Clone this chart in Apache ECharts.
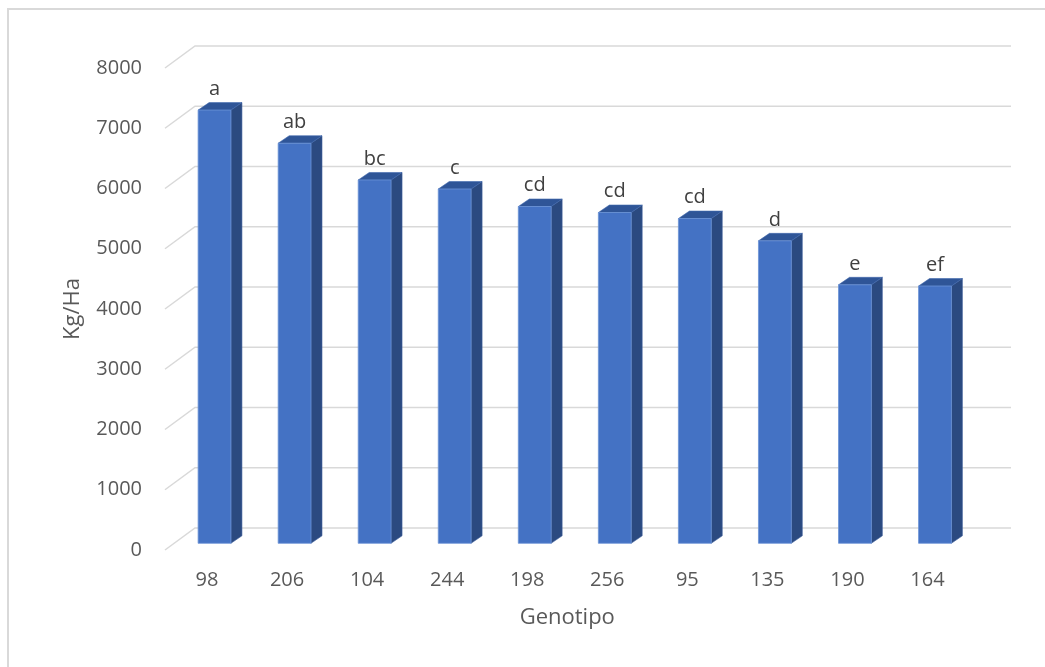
<!DOCTYPE html>
<html>
<head>
<meta charset="utf-8">
<title>Rendimiento por genotipo</title>
<script src="https://cdn.jsdelivr.net/npm/echarts@6/dist/echarts.min.js"></script>
<style>
  html, body { margin: 0; padding: 0; background: #ffffff; }
  #chart { width: 1045px; height: 667px; }
</style>
</head>
<body>
<div id="chart"></div>
<script>
// Genotypes, yield (kg/ha) and mean-separation letters
const genotipos = ['98', '206', '104', '244', '198', '256', '95', '135', '190', '164'];
const rendimiento = [7190, 6640, 6030, 5880, 5590, 5490, 5390, 5020, 4290, 4270];
const letras = ['a', 'ab', 'bc', 'c', 'cd', 'cd', 'cd', 'd', 'e', 'ef'];
const yTicks = [0, 1000, 2000, 3000, 4000, 5000, 6000, 7000, 8000];

const FONT = '"Open Sans", "Noto Sans", sans-serif';
const TEXT = '#595959';

// oblique depth used for the pseudo-3D look
const WALL_DX = 30, WALL_DY = 22;   // back wall offset from the front plane
const BAR_DX = 11, BAR_DY = 7.5;    // bar depth
const BAR_LIFT = 6.7;               // bar front face sits a little behind the front plane
const BAR_SHIFT = 7.5;              // horizontal shift of bars from label centres

const chart = echarts.init(document.getElementById('chart'), null, { renderer: 'canvas' });

chart.setOption({
  backgroundColor: '#ffffff',
  animation: false,
  graphic: [{
    type: 'rect',
    silent: true,
    shape: { x: 8, y: 9, width: 1100, height: 700 },
    style: { fill: 'none', stroke: '#d9d9d9', lineWidth: 2 }
  }],
  grid: { left: 167, right: 77.5, top: 68, bottom: 117 },
  xAxis: {
    type: 'category',
    data: genotipos,
    name: 'Genotipo',
    nameLocation: 'middle',
    nameGap: 57,
    nameTextStyle: { color: TEXT, fontSize: 22, fontFamily: FONT },
    axisLine: { show: false },
    axisTick: { show: false },
    axisLabel: { color: TEXT, fontSize: 20, fontFamily: FONT, margin: 20 }
  },
  yAxis: {
    type: 'value',
    min: 0,
    max: 8000,
    interval: 1000,
    name: 'Kg/Ha',
    nameLocation: 'middle',
    nameGap: 83,
    nameRotate: 90,
    nameTextStyle: { color: TEXT, fontSize: 22, fontFamily: FONT },
    axisLine: { show: false },
    axisTick: { show: false },
    splitLine: { show: false },
    axisLabel: {
      color: TEXT, fontSize: 20, fontFamily: FONT, margin: 25,
      formatter: v => String(v)
    }
  },
  series: [
    {
      // floor and back-wall gridlines
      type: 'custom',
      silent: true,
      z: 1,
      data: yTicks.map(v => [0, v]),
      renderItem: function (params, api) {
        const p = api.coord([0, api.value(1)]);
        const x0 = params.coordSys.x - 2;
        const xEnd = 1011;
        return {
          type: 'polyline',
          shape: { points: [[x0, p[1]], [x0 + WALL_DX, p[1] - WALL_DY], [xEnd, p[1] - WALL_DY]] },
          style: { stroke: '#d9d9d9', lineWidth: 1.5, fill: null }
        };
      }
    },
    {
      // 3D-style columns with their letter labels
      type: 'custom',
      z: 2,
      data: rendimiento.map((v, i) => [i, v]),
      renderItem: function (params, api) {
        const i = api.value(0);
        const base = api.coord([i, 0]);
        const top = api.coord([i, api.value(1)]);
        const w = api.size([1, 0])[0] * 0.41;
        const cx = base[0] + BAR_SHIFT;
        const x1 = cx - w / 2, x2 = cx + w / 2;
        const yb = base[1] - BAR_LIFT, yt = top[1] - BAR_LIFT;
        return {
          type: 'group',
          children: [
            {
              type: 'polygon',
              shape: { points: [[x2, yt], [x2 + BAR_DX, yt - BAR_DY], [x2 + BAR_DX, yb - BAR_DY], [x2, yb]] },
              style: { fill: '#2B4A80', stroke: '#3a5d9a', lineWidth: 0.6 }
            },
            {
              type: 'polygon',
              shape: { points: [[x1, yt], [x1 + BAR_DX, yt - BAR_DY], [x2 + BAR_DX, yt - BAR_DY], [x2, yt]] },
              style: { fill: '#2F5597', stroke: '#4068ad', lineWidth: 0.6 }
            },
            {
              type: 'rect',
              shape: { x: x1, y: yt, width: w, height: yb - yt },
              style: { fill: '#4472C4', stroke: '#6b93d6', lineWidth: 0.8 }
            },
            {
              type: 'text',
              style: {
                text: letras[params.dataIndex],
                x: cx,
                y: yt - 11,
                align: 'center',
                verticalAlign: 'bottom',
                fill: '#404040',
                fontSize: 20,
                fontFamily: FONT
              }
            }
          ]
        };
      }
    }
  ]
});
</script>
</body>
</html>
